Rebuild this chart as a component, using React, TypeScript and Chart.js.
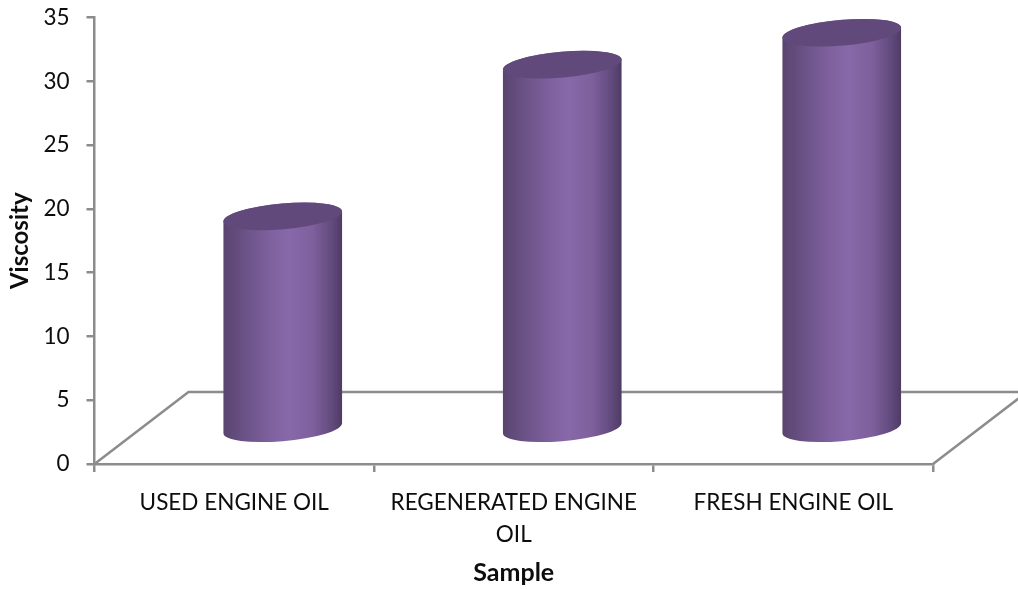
import React, { useEffect, useRef } from "react";
import { Chart, BarController, BarElement, CategoryScale, LinearScale } from "chart.js";

const categories = [["USED ENGINE OIL"], ["REGENERATED ENGINE", "OIL"], ["FRESH ENGINE OIL"]];
const viscosity = [16.7, 28.6, 31.1];
const yTicks = { min: 0, max: 35, step: 5 };
const axisTitles = { x: "Sample", y: "Viscosity" };

// Oblique projection of the chart floor, in pixels.
const DEPTH_X = 94;
const DEPTH_Y = 72;
const COLUMN_LIFT = 34.5;
const AXIS_COLOR = "#8c8c8c";
const TEXT_COLOR = "#0d0d0d";
const FONT = "Lato, Carlito, sans-serif";

// Column stands halfway back on the floor and its ellipses lean slightly.
const TILT = (-5 * Math.PI) / 180;
const CAP_RATIO = 13 / 60;

class CylinderElement extends BarElement {
  static id = "cylinder";
  draw(ctx: CanvasRenderingContext2D) {
    const { x, y, base, width } = (this as any).getProps(["x", "y", "base", "width"]);
    const cx = x + DEPTH_X / 2 + 1.5;
    const top = y - COLUMN_LIFT;
    const bottom = base - COLUMN_LIFT;
    const a = width / 2;
    const b = a * CAP_RATIO;
    const t0 = Math.atan2(-b * Math.sin(TILT), a * Math.cos(TILT));

    const shade = ctx.createLinearGradient(cx - a, 0, cx + a, 0);
    shade.addColorStop(0, "#59446f");
    shade.addColorStop(0.18, "#6a5286");
    shade.addColorStop(0.42, "#8062a0");
    shade.addColorStop(0.55, "#8768a9");
    shade.addColorStop(0.75, "#7e609d");
    shade.addColorStop(0.92, "#60497b");
    shade.addColorStop(1, "#4e3b64");

    ctx.save();
    ctx.beginPath();
    ctx.ellipse(cx, bottom, a, b, TILT, t0, t0 + Math.PI);
    ctx.ellipse(cx, top, a, b, TILT, t0 + Math.PI, t0 + 2 * Math.PI);
    ctx.closePath();
    ctx.fillStyle = shade;
    ctx.fill();

    ctx.beginPath();
    ctx.ellipse(cx, top, a, b, TILT, 0, 2 * Math.PI);
    ctx.fillStyle = "#614a7b";
    ctx.fill();
    ctx.restore();
  }
}

class CylinderController extends BarController {
  static id = "cylinder";
  static defaults = { ...BarController.defaults, dataElementType: "cylinder" };
  static overrides = BarController.overrides;
}

Chart.register(CylinderController, CylinderElement, BarController, BarElement, CategoryScale, LinearScale);

// Floor outline: the back edge and the two receding side edges.
const floorPlugin = {
  id: "floor",
  beforeDatasetsDraw(chart: Chart) {
    const { ctx, chartArea: area } = chart;
    ctx.save();
    ctx.strokeStyle = AXIS_COLOR;
    ctx.lineWidth = 2.5;
    ctx.beginPath();
    ctx.moveTo(area.left, area.bottom);
    ctx.lineTo(area.left + DEPTH_X, area.bottom - DEPTH_Y);
    ctx.lineTo(area.right + DEPTH_X, area.bottom - DEPTH_Y);
    ctx.moveTo(area.right, area.bottom);
    ctx.lineTo(area.right + DEPTH_X, area.bottom - DEPTH_Y);
    ctx.stroke();
    ctx.restore();
  },
};

export default function App() {
  const canvasRef = useRef<HTMLCanvasElement>(null);

  useEffect(() => {
    const chart = new Chart(canvasRef.current!, {
      type: "cylinder" as any,
      plugins: [floorPlugin],
      data: {
        labels: categories as any,
        datasets: [
          {
            label: "Viscosity",
            data: viscosity,
            barPercentage: 0.426,
            categoryPercentage: 1,
            clip: false,
          } as any,
        ],
      },
      options: {
        responsive: false,
        animation: false,
        layout: { padding: { top: 17.5, right: 85, bottom: 1, left: 6 } },
        plugins: { legend: { display: false }, tooltip: { enabled: false } },
        scales: {
          x: {
            type: "category",
            offset: true,
            afterFit: (s: any) => {
              s.height = 124;
            },
            grid: {
              offset: true,
              drawOnChartArea: false,
              drawTicks: true,
              tickLength: 8,
              color: AXIS_COLOR,
              lineWidth: 2.5,
            },
            border: { color: AXIS_COLOR, width: 2.5 },
            ticks: {
              color: TEXT_COLOR,
              maxRotation: 0,
              autoSkip: false,
              padding: 15,
              font: { family: FONT, size: 22.5, lineHeight: 1.42 },
            },
            title: {
              display: true,
              text: axisTitles.x,
              color: TEXT_COLOR,
              padding: { top: 0, bottom: 0 },
              font: { family: FONT, size: 25, weight: "bold" },
            },
          },
          y: {
            type: "linear",
            min: yTicks.min,
            max: yTicks.max,
            afterFit: (s: any) => {
              s.width = 88.5;
              s.paddingTop = 0;
              s.paddingBottom = 0;
            },
            grid: {
              drawOnChartArea: false,
              drawTicks: true,
              tickLength: 8,
              color: AXIS_COLOR,
              lineWidth: 2.5,
            },
            border: { color: AXIS_COLOR, width: 2.5 },
            ticks: {
              stepSize: yTicks.step,
              color: TEXT_COLOR,
              padding: 17,
              font: { family: FONT, size: 22.5 },
            },
            title: {
              display: true,
              text: axisTitles.y,
              color: TEXT_COLOR,
              padding: 0,
              font: { family: FONT, size: 24, weight: "bold" },
            },
          },
        },
      },
    } as any);
    return () => chart.destroy();
  }, []);

  return (
    <div style={{ position: "absolute", left: 0, top: 0, width: 1018, height: 589, background: "#fff" }}>
      <canvas ref={canvasRef} width={1018} height={589} style={{ display: "block" }} />
    </div>
  );
}
